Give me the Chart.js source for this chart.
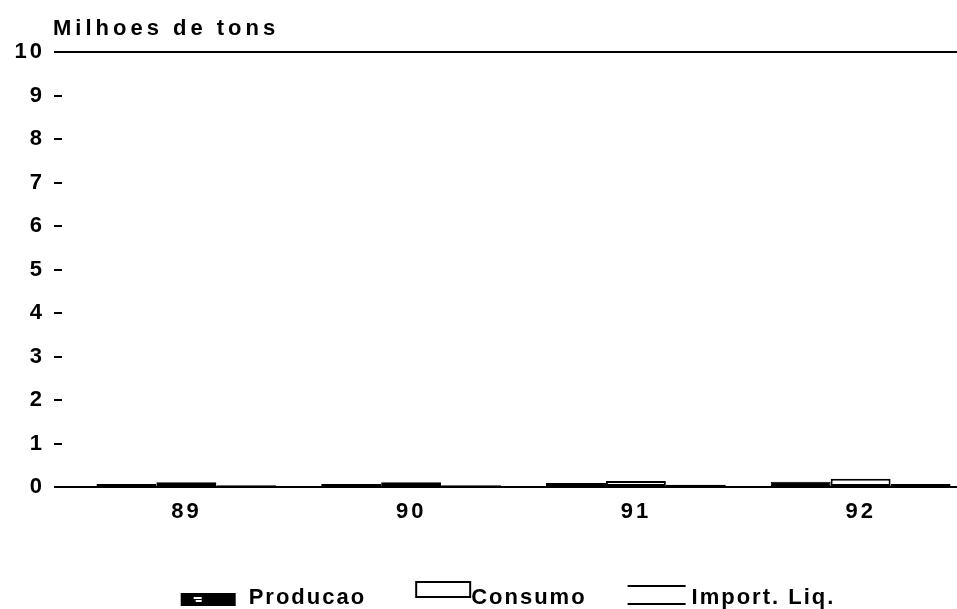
<!DOCTYPE html>
<html>
<head>
<meta charset="utf-8">
<script src="https://cdn.jsdelivr.net/npm/chart.js@4.4.0/dist/chart.umd.min.js"></script>
<style>
  html, body { margin: 0; padding: 0; background: #fff; overflow: hidden; }
  #wrap { width: 957px; height: 609px; }
</style>
</head>
<body>
<div id="wrap"><canvas id="chart" width="957" height="609"></canvas></div>
<script>
/* ── data ─────────────────────────────────────────── */
const years       = ['89', '90', '91', '92'];
const producao    = [0.07, 0.07, 0.09, 0.12];
const consumo     = [0.11, 0.11, 0.14, 0.19];
const importLiq   = [0.04, 0.04, 0.05, 0.07];
const yTicks      = [0, 1, 2, 3, 4, 5, 6, 7, 8, 9, 10];
const seriesNames = ['Producao', 'Consumo', 'Import. Liq.'];
const yTitle      = 'Milhoes de tons';

const FONT = "'Liberation Sans', Arial, sans-serif";

/* ── legend markers (drawn on small canvases) ─────── */
function makeMarker(kind) {
  const c = document.createElement('canvas');
  c.width = 116; c.height = 40;
  const g = c.getContext('2d');
  g.fillStyle = '#000';
  if (kind === 'prod') {
    g.fillRect(47, 15, 55, 13);
    g.fillStyle = '#fff';
    g.fillRect(60, 19, 8, 2);
    g.fillRect(62, 22, 6, 2);
  } else if (kind === 'cons') {
    g.lineWidth = 2;
    g.strokeRect(60, 4, 54, 15);
  } else {
    g.fillRect(51, 7, 58, 2);
    g.fillRect(51, 25, 58, 2);
  }
  return c;
}
const markers = [makeMarker('prod'), makeMarker('cons'), makeMarker('imp')];

/* ── letter spacing, category band, axis title ────── */
const tweaks = {
  id: 'tweaks',
  beforeUpdate(chart) { chart.ctx.letterSpacing = '3px'; },
  beforeDraw(chart)   { chart.ctx.letterSpacing = '3px'; },
  afterInit(chart) {
    const lg = chart.legend;
    if (!lg) return;
    const fit = lg.fit.bind(lg), draw = lg.draw.bind(lg);
    lg.fit = function () {
      chart.ctx.letterSpacing = '2px'; fit(); chart.ctx.letterSpacing = '3px';
    };
    lg.draw = function () {
      const c = chart.ctx;
      c.save();
      c.letterSpacing = '2px';
      c.translate(12, 10);
      c.clip = function () {};          // let the markers spill out of the box
      draw();
      delete c.clip;
      c.restore();
      c.letterSpacing = '3px';
    };
  },
  // the year bands sit a bit to the right of the value grid
  afterLayout(chart) {
    const x = chart.scales.x, a = chart.chartArea;
    x.left = a.left + 12;
    x.right = a.right + 16;
    x.width = x.right - x.left;
    x.configure();
  },
  afterDraw(chart) {
    const ctx = chart.ctx;
    ctx.save();
    ctx.letterSpacing = '4px';
    ctx.font = 'bold 22px ' + FONT;
    ctx.fillStyle = '#000';
    ctx.textAlign = 'left';
    ctx.textBaseline = 'alphabetic';
    ctx.fillText(yTitle, chart.chartArea.left - 9, 35);
    ctx.restore();
    ctx.letterSpacing = '3px';
  }
};

const ctx = document.getElementById('chart');
new Chart(ctx, {
  type: 'bar',
  data: {
    labels: years,
    datasets: [
      {
        label: seriesNames[0],
        data: producao,
        backgroundColor: '#000',
        borderColor: '#000',
        borderWidth: 1,
        borderSkipped: false
      },
      {
        label: seriesNames[1],
        data: consumo,
        backgroundColor: '#fff',
        borderColor: '#000',
        borderWidth: 2,
        borderSkipped: false
      },
      {
        label: seriesNames[2],
        data: importLiq,
        backgroundColor: '#fff',
        borderColor: '#000',
        borderWidth: { top: 2, bottom: 2, left: 0, right: 0 },
        borderSkipped: false
      }
    ]
  },
  options: {
    responsive: false,
    animation: false,
    devicePixelRatio: 1,
    layout: { padding: { top: 52, left: 0, right: 0, bottom: 0 } },
    datasets: { bar: { categoryPercentage: 0.8, barPercentage: 1.0 } },
    plugins: {
      tooltip: { enabled: false },
      title: { display: false },
      legend: {
        position: 'bottom',
        labels: {
          usePointStyle: true,
          pointStyleWidth: 92,
          padding: 2,
          color: '#000',
          font: { family: FONT, size: 22, weight: 'bold' },
          generateLabels: (chart) => chart.data.datasets.map((ds, i) => ({
            text: ds.label,
            pointStyle: markers[i],
            fillStyle: 'transparent',
            strokeStyle: 'transparent',
            lineWidth: 0,
            fontColor: '#000',
            hidden: false,
            datasetIndex: i
          }))
        }
      }
    },
    scales: {
      x: {
        border: { display: false },
        grid: { display: false, drawTicks: false },
        ticks: {
          color: '#000',
          padding: 12,
          font: { family: FONT, size: 22, weight: 'bold' }
        },
        afterFit(scale) { scale.height = 88; }
      },
      y: {
        min: yTicks[0],
        max: yTicks[yTicks.length - 1],
        afterBuildTicks(scale) { scale.ticks = yTicks.map(v => ({ value: v })); },
        border: { display: false },
        grid: {
          color: c => (c.tick && (c.tick.value === 0 || c.tick.value === 10)) ? '#000' : 'rgba(0,0,0,0)',
          tickColor: '#000',
          lineWidth: 2,
          tickLength: 8,
          drawTicks: true
        },
        ticks: {
          color: '#000',
          padding: 9,
          font: { family: FONT, size: 22, weight: 'bold' }
        },
        afterFit(scale) { scale.width = 62; }
      }
    }
  },
  plugins: [tweaks]
});
</script>
</body>
</html>
